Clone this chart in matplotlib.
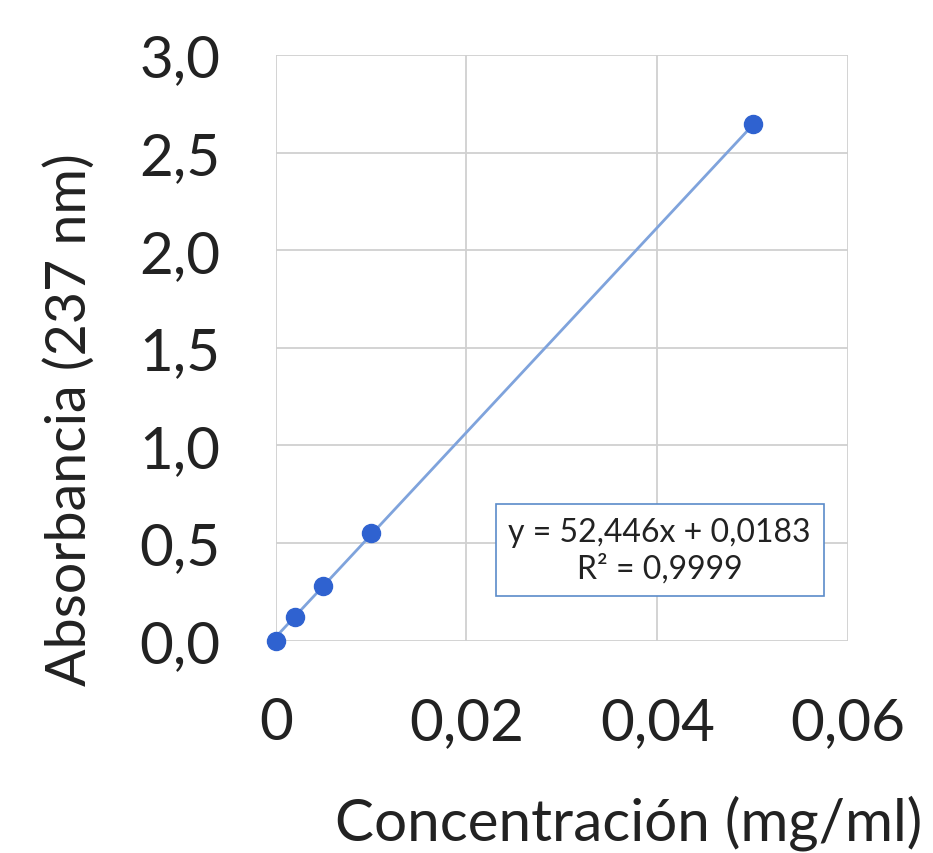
import matplotlib
matplotlib.use("Agg")
import matplotlib.pyplot as plt
import numpy as np

conc = [0.0, 0.002, 0.005, 0.01, 0.05]
absorb = [0.0, 0.12, 0.28, 0.55, 2.645]
slope, intercept = 52.446, 0.0183
x_ticks = [0, 0.02, 0.04, 0.06]
x_labels = ["0", "0,02", "0,04", "0,06"]
y_ticks = [0.0, 0.5, 1.0, 1.5, 2.0, 2.5, 3.0]
y_labels = ["0,0", "0,5", "1,0", "1,5", "2,0", "2,5", "3,0"]

plt.rcParams["font.family"] = ["Lato", "DejaVu Sans"]

fig = plt.figure(figsize=(9.33, 8.54), dpi=100)
ax = fig.add_axes([0.2955, 0.2486, 0.6134, 0.6858])

xs = np.array([conc[0], conc[-1]])
ax.plot(xs, slope * xs + intercept, color="#7fa3dc", lw=2, zorder=2)
ax.plot(conc, absorb, "o", color="#2f62d0", ms=13, mec="#2f62d0", zorder=3, clip_on=False)

ax.set_xlim(0, 0.06)
ax.set_ylim(0, 3.0)
ax.set_xticks(x_ticks)
ax.set_xticklabels(x_labels)
ax.set_yticks(y_ticks)
ax.set_yticklabels(y_labels)
ax.tick_params(length=0, labelsize=42, colors="#222222")
ax.tick_params(axis="y", pad=40)
ax.tick_params(axis="x", pad=40)
ax.grid(True, color="#d0d0d0", lw=1.3)
ax.set_axisbelow(True)
for s in ax.spines.values():
    s.set_visible(False)

ax.set_xlabel("Concentración (mg/ml)", fontsize=42, color="#222222", va="baseline")
ax.xaxis.set_label_coords(0.617, -0.339)
ax.set_ylabel("Absorbancia (237 nm)", fontsize=40, color="#222222")
ax.yaxis.set_label_coords(-0.315, 0.379)

ax.text(0.671, 0.155, "y = 52,446x + 0,0183\nR² = 0,9999", transform=ax.transAxes,
        ha="center", va="center", fontsize=23, linespacing=1.25, color="#222222",
        bbox=dict(boxstyle="square,pad=0.4", fc="white", ec="#5b8bc9", lw=1.2))

fig.savefig("out.png", dpi=100)
